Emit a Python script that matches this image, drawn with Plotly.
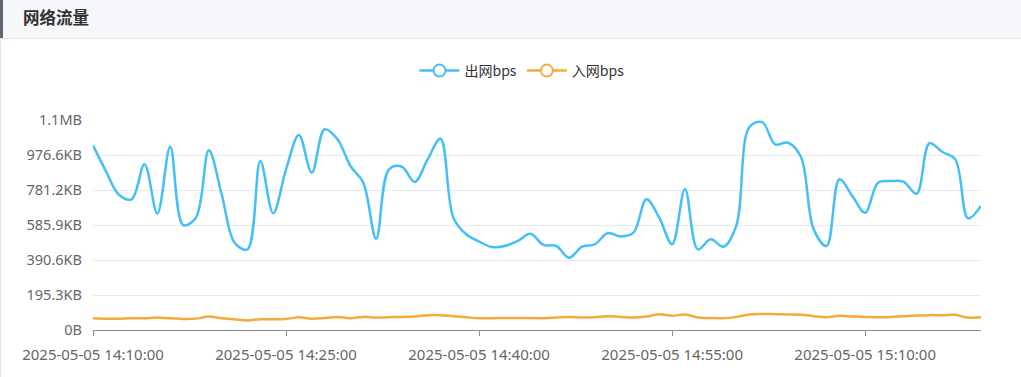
import plotly.graph_objects as go
import pandas as pd

# ---- data ----
start_time = "2025-05-05 14:10:00"
n_points = 70
times = pd.date_range(start_time, periods=n_points, freq="1min").strftime("%Y-%m-%d %H:%M:%S").tolist()

out_bps = [1055000, 908000, 774000, 747000, 947000, 665000, 1047000, 600000, 642000, 1027000,
           775000, 499000, 461000, 966000, 667000, 918000, 1114000, 899000, 1147000, 1090000,
           937000, 842000, 522000, 918000, 933000, 846000, 975000, 1093000, 642000, 547000,
           505000, 474000, 480000, 509000, 550000, 486000, 480000, 413000, 476000, 490000,
           554000, 535000, 556000, 747000, 642000, 490000, 804000, 461000, 518000, 476000,
           600000, 1160000, 1188000, 1061000, 1070000, 990000, 575000, 480000, 861000, 766000,
           670000, 842000, 851000, 847000, 779000, 1067000, 1017000, 975000, 638000, 709000]

in_bps = [67000, 65000, 65000, 67000, 67000, 71000, 67000, 63000, 65000, 77000,
          67000, 61000, 55000, 61000, 61000, 63000, 73000, 65000, 69000, 75000,
          67000, 75000, 71000, 73000, 75000, 77000, 85000, 85000, 79000, 73000,
          67000, 67000, 69000, 69000, 69000, 67000, 71000, 75000, 71000, 73000,
          79000, 75000, 71000, 77000, 90000, 81000, 89000, 71000, 69000, 67000,
          75000, 89000, 92000, 90000, 89000, 87000, 79000, 73000, 81000, 77000,
          75000, 73000, 75000, 79000, 83000, 85000, 85000, 87000, 71000, 73000]

series_names = ["出网bps", "入网bps"]
series_colors = ["#45BFF8", "#F5AB3C"]
y_ticks = [0, 200000, 400000, 600000, 800000, 1000000, 1200000]
title_text = "网络流量"


def fmt_bytes(v):
    if v == 0:
        return "0B"
    if v >= 1024 * 1024:
        return f"{v / 1024 / 1024:.1f}MB"
    return f"{v / 1024:.1f}KB"


FONT = "Noto Sans CJK SC, Noto Sans, sans-serif"
TICKFONT = "Noto Sans, Noto Sans CJK SC, sans-serif"
W, H = 1021, 377
L, R, T, B = 93, 40, 120, 47
PW, PH = W - L - R, H - T - B


def px(x):
    return (x - L) / PW


def py(y):
    return (H - B - y) / PH


fig = go.Figure()
for name, vals, col in zip(series_names, [out_bps, in_bps], series_colors):
    fig.add_trace(go.Scatter(x=times, y=vals, mode="lines", name=name, showlegend=False,
                             line=dict(color=col, width=2.5, shape="spline", smoothing=1.0),
                             hoverinfo="skip"))
    # legend entry (line + hollow circle icon)
    fig.add_trace(go.Scatter(x=[None], y=[None], mode="lines+markers", name=name,
                             line=dict(color=col, width=2.5),
                             marker=dict(symbol="circle", size=12, color="white",
                                         line=dict(color=col, width=2))))

shapes = [
    # header background
    dict(type="rect", xref="paper", yref="paper", x0=px(0), x1=px(W), y0=py(38), y1=py(0),
         fillcolor="#F5F7FA", line=dict(width=0), layer="below"),
    dict(type="line", xref="paper", yref="paper", x0=px(0), x1=px(W), y0=py(38.5), y1=py(38.5),
         line=dict(color="#E4E7ED", width=1)),
    # card left border
    dict(type="line", xref="paper", yref="paper", x0=px(0.5), x1=px(0.5), y0=py(38), y1=py(H),
         line=dict(color="#E4E7ED", width=1)),
    # header left accent bar
    dict(type="rect", xref="paper", yref="paper", x0=px(0), x1=px(3), y0=py(38), y1=py(0),
         fillcolor="#5F6672", line=dict(width=0)),
]

fig.update_layout(
    width=W, height=H,
    margin=dict(l=L, r=R, t=T, b=B, pad=0),
    paper_bgcolor="white", plot_bgcolor="white",
    font=dict(family=FONT, size=14, color="#666666"),
    shapes=shapes,
    annotations=[dict(text="<b>" + title_text + "</b>", xref="paper", yref="paper",
                      x=px(21), y=py(17), xanchor="left", yanchor="middle", showarrow=False,
                      font=dict(family=FONT, size=16.5, color="#303133"))],
    legend=dict(orientation="h", x=px(522), y=py(71), xanchor="center", yanchor="middle",
                font=dict(family=FONT, size=14, color="#333333"), itemwidth=40,
                bgcolor="rgba(0,0,0,0)", traceorder="normal"),
    xaxis=dict(type="date", range=[times[0], times[-1]], tick0=times[0], dtick=15 * 60 * 1000,
               tickformat="%Y-%m-%d %H:%M:%S", showgrid=False, showline=True,
               linecolor="#8E9199", linewidth=1, ticks="outside", ticklen=5, tickcolor="#8E9199",
               ticklabelstandoff=6,
               tickfont=dict(family=TICKFONT, size=15, color="#666666"), zeroline=False),
    yaxis=dict(range=[0, 1200000], tickvals=y_ticks, ticktext=[fmt_bytes(v) for v in y_ticks],
               showgrid=True, gridcolor="#E6E9F0", gridwidth=1, zeroline=False, showline=False,
               ticks="", ticklabelstandoff=10,
               tickfont=dict(family=TICKFONT, size=14.5, color="#666666")),
    hovermode=False,
)

fig.write_html("out.html", config={"displayModeBar": False},
               post_script="document.body.style.margin='0';")
